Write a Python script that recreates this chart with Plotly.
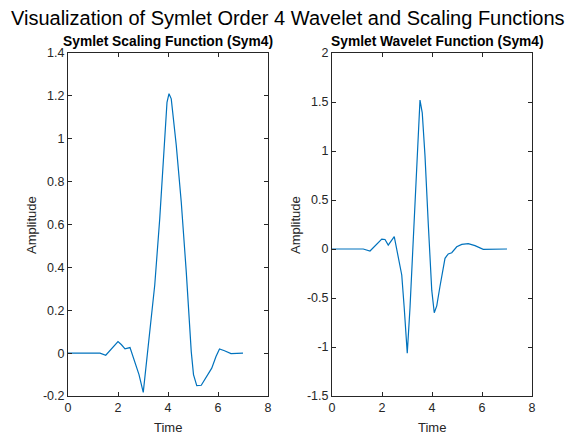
import plotly.graph_objects as go

# Scaling function (phi) samples
phi_t = [0, 0.5, 1.0, 1.28, 1.51, 1.74, 2.0, 2.14, 2.28, 2.48, 2.68, 2.84, 3.01, 3.13, 3.24,
         3.47, 3.67, 3.84, 3.96, 4.04, 4.13, 4.33, 4.53, 4.73, 4.86, 4.93, 5.02, 5.15, 5.33,
         5.53, 5.75, 5.92, 6.06, 6.26, 6.52, 7.0]
phi_v = [0, 0, 0.003, 0.0, -0.01, 0.02, 0.054, 0.039, 0.02, 0.026, -0.039, -0.10, -0.183, -0.054, 0.069,
         0.318, 0.628, 0.97, 1.17, 1.21, 1.186, 0.97, 0.705, 0.38, 0.13, 0.007, -0.10, -0.152, -0.15,
         -0.109, -0.07, -0.016, 0.019, 0.011, -0.002, 0.0]

# Wavelet function (psi) samples
psi_t = [0, 0.5, 0.92, 1.25, 1.52, 1.75, 1.99, 2.12, 2.25, 2.49, 2.59, 2.65, 2.79, 2.89, 3.01,
         3.12, 3.25, 3.39, 3.52, 3.61, 3.72, 3.85, 3.99, 4.09, 4.19, 4.32, 4.45, 4.52, 4.65,
         4.79, 4.99, 5.19, 5.45, 5.72, 6.05, 6.32, 7.0]
psi_v = [0, 0, 0.007, 0.0, -0.02, 0.04, 0.10, 0.097, 0.04, 0.126, 0.007, -0.095, -0.265, -0.605, -1.064,
         -0.6, 0.09, 0.84, 1.52, 1.39, 0.95, 0.26, -0.42, -0.65, -0.58, -0.38, -0.18, -0.095, -0.05,
         -0.038, 0.023, 0.047, 0.054, 0.034, -0.003, -0.002, 0.0]

x_ticks = [0, 2, 4, 6, 8]
phi_ticks = [-0.2, 0, 0.2, 0.4, 0.6, 0.8, 1, 1.2, 1.4]
phi_ticktext = ["-0.2", "0", "0.2", "0.4", "0.6", "0.8", "1", "1.2", "1.4"]
psi_ticks = [-1.5, -1, -0.5, 0, 0.5, 1, 1.5, 2]
psi_ticktext = ["-1.5", "-1", "-0.5", "0", "0.5", "1", "1.5", "2"]

main_title = "Visualization of Symlet Order 4 Wavelet and Scaling Functions"
titles = ["Symlet Scaling Function (Sym4)", "Symlet Wavelet Function (Sym4)"]

W, H = 568, 436
line_color = "#0072BD"
ax_color = "#262626"
font_family = "Liberation Sans, Arial, sans-serif"

fig = go.Figure()
fig.add_trace(go.Scatter(x=phi_t, y=phi_v, mode="lines", line=dict(color=line_color, width=1.2),
                         xaxis="x", yaxis="y", showlegend=False))
fig.add_trace(go.Scatter(x=psi_t, y=psi_v, mode="lines", line=dict(color=line_color, width=1.2),
                         xaxis="x2", yaxis="y2", showlegend=False))

left = (68 / W, 268 / W)
right = (332 / W, 532 / W)
ydom = (1 - 396 / H, 1 - 53 / H)

common = dict(showgrid=False, zeroline=False, showline=True, linecolor=ax_color, linewidth=1,
              mirror="ticks", ticks="inside", ticklen=4, tickcolor=ax_color, automargin=False,
              tickfont=dict(family=font_family, size=12.5, color=ax_color))

fig.update_layout(
    width=W, height=H, margin=dict(l=0, r=0, t=0, b=0, autoexpand=False),
    paper_bgcolor="white", plot_bgcolor="white",
    xaxis=dict(domain=left, range=[0, 8], tickvals=x_ticks, anchor="y", **common),
    yaxis=dict(domain=ydom, range=[-0.2, 1.4], tickvals=phi_ticks, ticktext=phi_ticktext, anchor="x", **common),
    xaxis2=dict(domain=right, range=[0, 8], tickvals=x_ticks, anchor="y2", **common),
    yaxis2=dict(domain=ydom, range=[-1.5, 2], tickvals=psi_ticks, ticktext=psi_ticktext, anchor="x2", **common),
)

ann = []
ann.append(dict(text=main_title, x=288 / W, y=1 - 18 / H, xref="paper", yref="paper",
                showarrow=False, xanchor="center", yanchor="middle",
                font=dict(family=font_family, size=20, color="black")))
for i, (cx, t) in enumerate([(168, titles[0]), (437, titles[1])]):
    ann.append(dict(text="<b>" + t + "</b>", x=cx / W, y=1 - 41 / H, xref="paper", yref="paper",
                    showarrow=False, xanchor="center", yanchor="middle",
                    font=dict(family=font_family, size=13.8, color="black")))
for cx in (168, 432):
    ann.append(dict(text="Time", x=cx / W, y=1 - 427 / H, xref="paper", yref="paper",
                    showarrow=False, xanchor="center", yanchor="middle",
                    font=dict(family=font_family, size=13, color=ax_color)))
for ax_x in (32, 296):
    ann.append(dict(text="Amplitude", x=ax_x / W, y=1 - 225 / H, xref="paper", yref="paper",
                    showarrow=False, xanchor="center", yanchor="middle", textangle=-90,
                    font=dict(family=font_family, size=13, color=ax_color)))
fig.update_layout(annotations=ann)

fig.write_html("out.html")
